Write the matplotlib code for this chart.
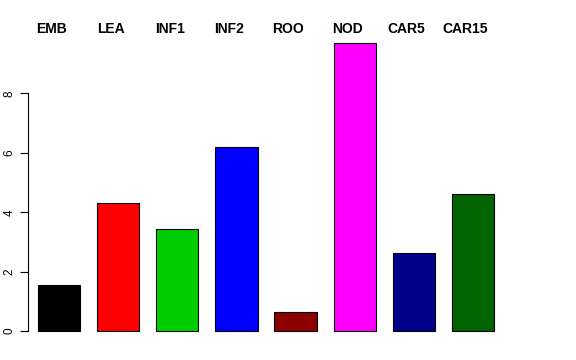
import numpy as np
import matplotlib
matplotlib.use("Agg")
import matplotlib.pyplot as plt

plt.rcParams["font.family"] = ["Liberation Sans", "DejaVu Sans"]

labels = ["EMB", "LEA", "INF1", "INF2", "ROO", "NOD", "CAR5", "CAR15"]
values = [1.55, 4.30, 3.42, 6.21, 0.63, 9.69, 2.64, 4.61]
colors = ["black", "red", "#00CD00", "blue", "#8B0000", "magenta", "#00008B", "#006400"]

# R-style barplot: width 1, space 0.4
x = 0.4 + 1.4 * np.arange(len(values)) + 0.5

fig = plt.figure(figsize=(5.76, 3.6), dpi=100)
ax = fig.add_axes([28 / 576, 17.4 / 360, 520 / 576, 311 / 360])
ax.bar(x, values, width=1.0, color=colors, edgecolor="black", linewidth=0.8)
ax.set_xlim(0.163, 12.48)
ax.set_ylim(-0.39, 10.08)

for xi, lab in zip(x, labels):
    ax.text(xi - 0.18, 10.17, lab, ha="center", va="center", fontsize=10,
            fontweight="bold", clip_on=False)

for s in ("top", "right", "bottom"):
    ax.spines[s].set_visible(False)
ax.spines["left"].set_bounds(0, 8)
ax.spines["left"].set_linewidth(0.8)
ax.set_xticks([])
ax.set_yticks([0, 2, 4, 6, 8])
ax.tick_params(axis="y", length=6, width=0.8, labelsize=8.5, pad=3)
for t in ax.get_yticklabels():
    t.set_rotation(90)
    t.set_va("center")

fig.savefig("out.png", dpi=100)
